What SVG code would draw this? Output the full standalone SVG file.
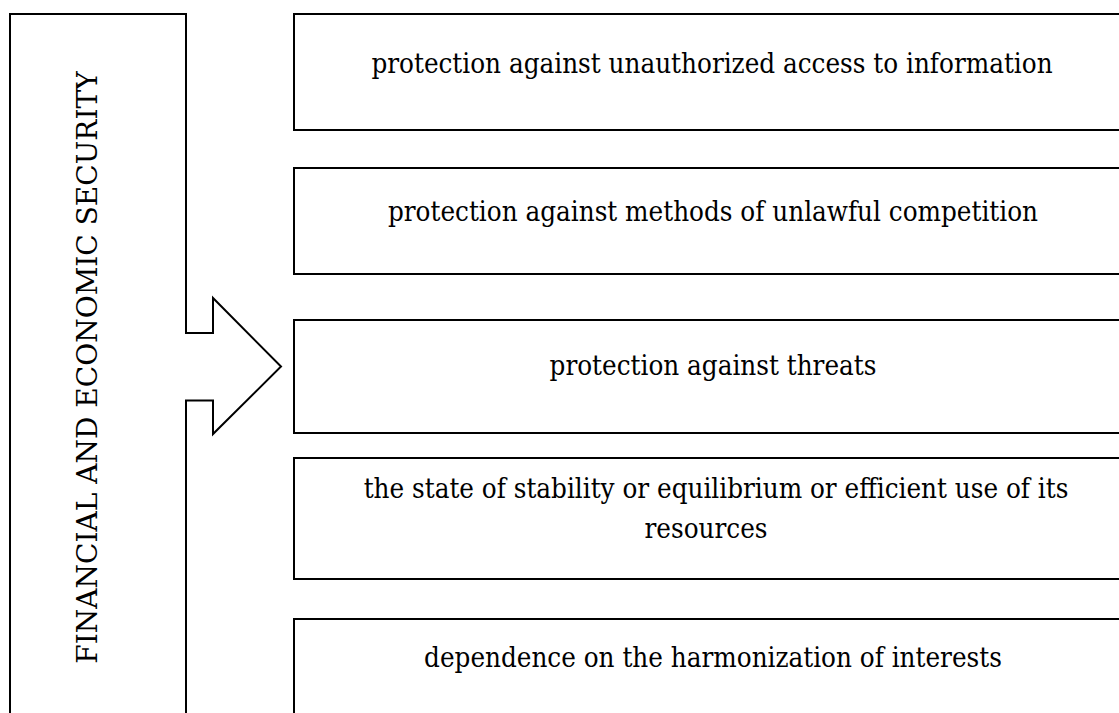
<svg xmlns="http://www.w3.org/2000/svg" width="1119" height="713" viewBox="0 0 1119 713">
<style>
.sh{fill:#fff;stroke:#000;stroke-width:2}
.t{font-family:"DejaVu Serif Condensed","DejaVu Serif","Liberation Serif",serif;font-stretch:condensed;font-size:27.5px;fill:#000;text-anchor:middle}
.v{font-family:"DejaVu Serif","Liberation Serif",serif;font-size:28px;fill:#000;text-anchor:middle}
</style>
<rect width="1119" height="713" fill="#fff"/>
<g id="main">
<path class="sh" d="M10,14 H186 V333 H213 V298 L281,366.5 L213,434 V400.5 H186 V730 H10 Z"/>
<text class="v" transform="translate(97,367.5) rotate(-90)">FINANCIAL AND ECONOMIC SECURITY</text>
</g>
<g id="n1"><rect class="sh" x="294" y="14" width="850" height="116"/><text class="t" x="712" y="73">protection against unauthorized access to information</text></g>
<g id="n2"><rect class="sh" x="294" y="168" width="850" height="106"/><text class="t" x="713" y="221">protection against methods of unlawful competition</text></g>
<g id="n3"><rect class="sh" x="294" y="320" width="850" height="113"/><text class="t" x="713" y="375">protection against threats</text></g>
<g id="n4"><rect class="sh" x="294" y="458" width="850" height="121"/><text class="t" x="716" y="498">the state of stability or equilibrium or efficient use of its</text><text class="t" x="706" y="538">resources</text></g>
<g id="n5"><rect class="sh" x="294" y="619" width="850" height="120"/><text class="t" x="713" y="667">dependence on the harmonization of interests</text></g>
<g id="connectors"></g>
</svg>
